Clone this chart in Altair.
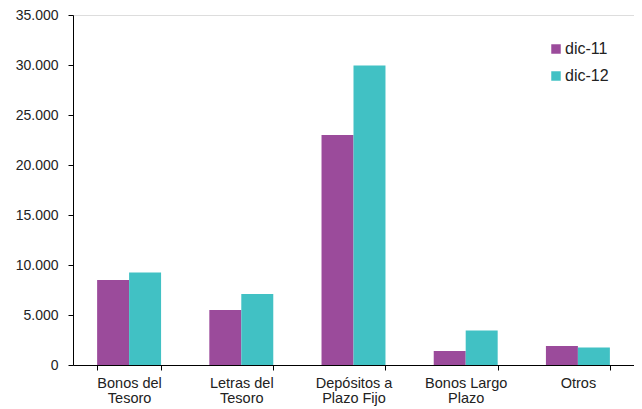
import altair as alt
import pandas as pd

categories = ["Bonos del\nTesoro", "Letras del\nTesoro", "Depósitos a\nPlazo Fijo", "Bonos Largo\nPlazo", "Otros"]
series = ["dic-11", "dic-12"]
dic11 = [8500, 5500, 23000, 1400, 1900]
dic12 = [9250, 7100, 29950, 3450, 1750]
colors = ["#9B4B9B", "#41C1C4"]
y_ticks = [0, 5000, 10000, 15000, 20000, 25000, 30000, 35000]

rows = []
for c, a, b in zip(categories, dic11, dic12):
    rows.append({"cat": c, "serie": series[0], "valor": a})
    rows.append({"cat": c, "serie": series[1], "valor": b})
df = pd.DataFrame(rows)

chart = alt.Chart(df).mark_bar().encode(
    x=alt.X("cat:N", sort=categories, title=None,
            scale=alt.Scale(paddingInner=0.43, paddingOuter=0.215),
            axis=alt.Axis(labelExpr="split(datum.label, '\\n')", labelAngle=0,
                          tickBand="extent", tickSize=5, labelPadding=6,
                          labelFontSize=14.5, labelLineHeight=15.5,
                          labelColor="#222", domainColor="#000", tickColor="#000")),
    xOffset=alt.XOffset("serie:N", sort=series, scale=alt.Scale(paddingInner=0, paddingOuter=0)),
    y=alt.Y("valor:Q", title=None,
            scale=alt.Scale(domain=[0, 35000], nice=False),
            axis=alt.Axis(values=y_ticks, grid=False, tickSize=5, labelPadding=10,
                          labelFontSize=14, labelColor="#222",
                          domainColor="#000", tickColor="#000",
                          labelExpr="replace(format(datum.value, ','), ',', '.')")),
    color=alt.Color("serie:N", sort=series, title=None,
                    scale=alt.Scale(domain=series, range=colors),
                    legend=alt.Legend(orient="none", legendX=475, legendY=26,
                                      symbolType="square", symbolSize=90,
                                      symbolStrokeWidth=0, labelFontSize=16,
                                      labelColor="#222", rowPadding=11,
                                      labelOffset=1, padding=0)),
).properties(
    width=561, height=350,
    autosize=alt.AutoSizeParams(type="none"),
    padding={"left": 65, "top": 7, "right": 0, "bottom": 42},
).configure_view(
    stroke=None
).configure(
    font="Liberation Sans"
)

chart.save("out.html", embed_options={"renderer": "svg", "actions": False})
